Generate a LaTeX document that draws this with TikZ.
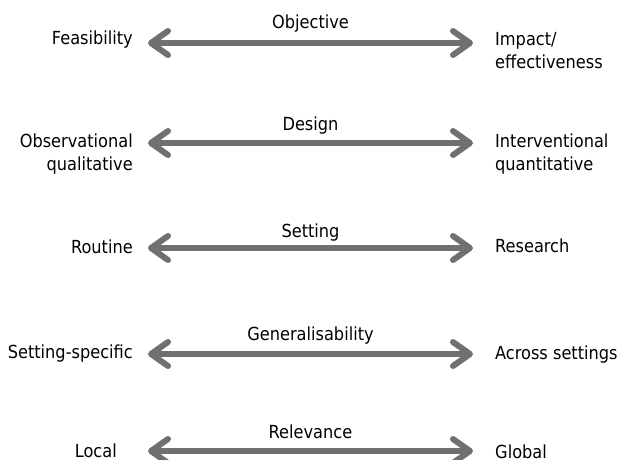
\documentclass[tikz,border=0pt]{standalone}
\usepackage{fontspec}
\setmainfont{DejaVu Sans Condensed}
\usetikzlibrary{arrows.meta,positioning}
\definecolor{axisgray}{RGB}{112,112,112}

\tikzset{
  dimension/.style={draw=axisgray, line width=6pt,
    {Straight Barb[length=17pt,width=24pt,round]}-{Straight Barb[length=17pt,width=24pt,round]}},
  pole/.style={font=\fontsize{18}{23}\selectfont, inner sep=0pt},
  heading/.style={font=\fontsize{18}{23}\selectfont, inner sep=0pt, anchor=base, yshift=13pt}
}

\begin{document}
\begin{tikzpicture}[x=1pt,y=1pt]
  \useasboundingbox (0,0) rectangle (618,-459);

  % arrow ends
  \coordinate (objL) at (148,-43);  \coordinate (objR) at (473,-43);
  \coordinate (desL) at (148,-143); \coordinate (desR) at (473,-143);
  \coordinate (setL) at (148,-248); \coordinate (setR) at (473,-248);
  \coordinate (genL) at (148,-354); \coordinate (genR) at (473,-354);
  \coordinate (relL) at (148,-451); \coordinate (relR) at (473,-451);

  % two-line labels sit on the baseline of their last line
  \begin{scope}[every node/.style={pole, align=right}]
    \node (feas)  [left=15pt of objL, anchor=base east, yshift=-1pt] {Feasibility};
    \node (obs)   [left=15pt of desL, anchor=base east, yshift=-27pt] {Observational\\qualitative};
    \node (rout)  [left=15pt of setL, anchor=base east, yshift=-5pt] {Routine};
    \node (spec)  [left=15pt of genL, anchor=base east, yshift=-4pt] {Setting-specific};
    \node (local) [left=31pt of relL, anchor=base east, yshift=-6pt] {Local};
  \end{scope}

  \begin{scope}[every node/.style={pole, align=left}]
    \node (imp)   [right=22pt of objR, anchor=base west, yshift=-25pt] {Impact/\\effectiveness};
    \node (intv)  [right=22pt of desR, anchor=base west, yshift=-27pt] {Interventional\\quantitative};
    \node (res)   [right=22pt of setR, anchor=base west, yshift=-4pt] {Research};
    \node (acr)   [right=22pt of genR, anchor=base west, yshift=-5pt] {Across settings};
    \node (glob)  [right=22pt of relR, anchor=base west, yshift=-7pt] {Global};
  \end{scope}

  \draw[dimension] (objL) -- node[heading, yshift=2pt] (objective) {Objective} (objR);
  \draw[dimension] (desL) -- node[heading] (design) {Design} (desR);
  \draw[dimension] (setL) -- node[heading, yshift=-2pt] (setting) {Setting} (setR);
  \draw[dimension] (genL) -- node[heading, yshift=1pt] (general) {Generalisability} (genR);
  \draw[dimension] (relL) -- node[heading] (relevance) {Relevance} (relR);

\end{tikzpicture}
\end{document}
